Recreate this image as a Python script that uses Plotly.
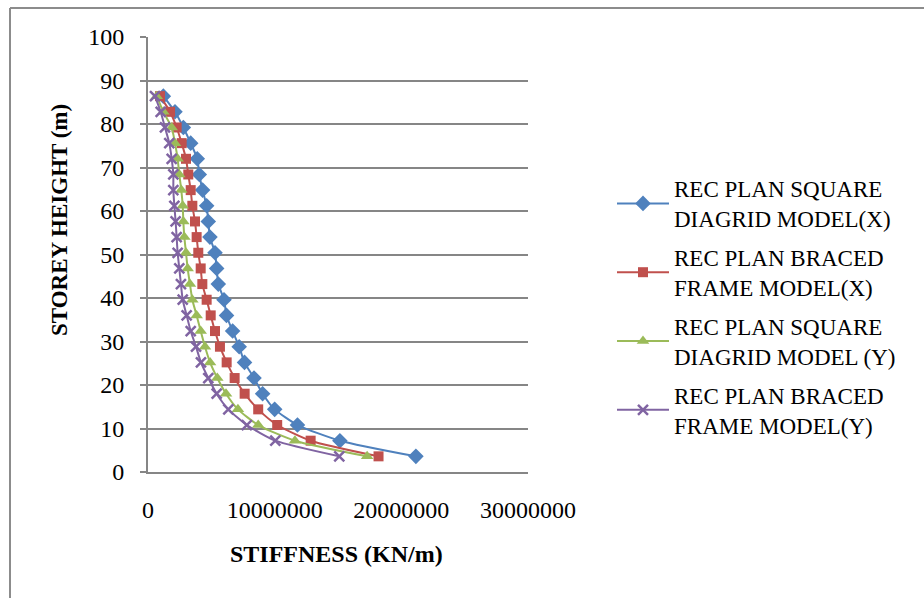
import plotly.graph_objects as go

heights = [3.6, 7.2, 10.8, 14.4, 18.0, 21.6, 25.2, 28.8, 32.4, 36.0, 39.6, 43.2,
           46.8, 50.4, 54.0, 57.6, 61.2, 64.8, 68.4, 72.0, 75.6, 79.2, 82.8, 86.4]

sq_diagrid_x = [21150000, 15150000, 11800000, 10000000, 9050000, 8370000, 7620000, 7200000,
                6680000, 6200000, 6000000, 5550000, 5420000, 5290000, 4890000, 4760000,
                4630000, 4310000, 4050000, 3890000, 3370000, 2790000, 2130000, 1210000]
braced_x = [18200000, 12840000, 10200000, 8700000, 7630000, 6840000, 6210000, 5680000,
            5290000, 4950000, 4630000, 4290000, 4160000, 3970000, 3840000, 3710000,
            3500000, 3370000, 3180000, 3000000, 2660000, 2260000, 1740000, 950000]
sq_diagrid_y = [17300000, 11600000, 8700000, 7100000, 6160000, 5470000, 4900000, 4500000,
                4160000, 3840000, 3500000, 3310000, 3130000, 3000000, 2870000, 2790000,
                2740000, 2630000, 2470000, 2340000, 2130000, 1870000, 1210000, 690000]
braced_y = [15100000, 10050000, 7800000, 6340000, 5420000, 4760000, 4180000, 3790000,
            3370000, 3050000, 2740000, 2600000, 2470000, 2340000, 2260000, 2180000,
            2080000, 2000000, 2000000, 1870000, 1680000, 1340000, 1000000, 550000]

names = ["REC PLAN SQUARE<br>DIAGRID MODEL(X)",
         "REC PLAN BRACED<br>FRAME MODEL(X)",
         "REC PLAN SQUARE<br>DIAGRID MODEL (Y)",
         "REC PLAN BRACED<br>FRAME MODEL(Y)"]
x_ticks = [0, 10000000, 20000000, 30000000]
x_tick_text = ["0", "10000000", "20000000", "30000000"]
y_ticks = [0, 10, 20, 30, 40, 50, 60, 70, 80, 90, 100]

colors = ["#4F81BD", "#C0504D", "#9BBB59", "#8064A2"]
symbols = ["diamond", "square", "triangle-up", "x-thin"]
sizes = [12, 10, 11, 10]
series = [sq_diagrid_x, braced_x, sq_diagrid_y, braced_y]

FONT = "Liberation Serif, Times New Roman, serif"

fig = go.Figure()
for i, (vals, name) in enumerate(zip(series, names)):
    marker = dict(symbol=symbols[i], size=sizes[i], color=colors[i])
    if symbols[i] == "x-thin":
        marker["line"] = dict(color=colors[i], width=2.5)
    fig.add_trace(go.Scatter(
        x=vals, y=heights, mode="lines+markers", name=name,
        line=dict(color=colors[i], width=2, shape="spline", smoothing=0.6),
        marker=marker, legendgroup="g%d" % i,
    ))

W, H = 924, 598
L, R, T, B = 148, 528, 37, 472

def px_x(p):
    return (p - L) / (R - L)

def px_y(p):
    return (B - p) / (B - T)

fig.update_layout(
    width=W, height=H,
    margin=dict(l=L, r=W - R, t=T, b=H - B, pad=0),
    paper_bgcolor="white", plot_bgcolor="white",
    font=dict(family=FONT, size=23, color="black"),
    showlegend=True,
    legend=dict(x=px_x(612), y=px_y(167), xanchor="left", yanchor="top",
                font=dict(family=FONT, size=23, color="black"),
                itemwidth=52, tracegroupgap=6, bgcolor="rgba(0,0,0,0)"),
    xaxis=dict(range=[0, 30000000], tickvals=x_ticks, ticktext=x_tick_text,
               showgrid=False, showline=True, linecolor="#868686", linewidth=2,
               ticks="", zeroline=False, ticklabelstandoff=15,
               tickfont=dict(family=FONT, size=24, color="black")),
    yaxis=dict(range=[0, 100], tickvals=y_ticks, showgrid=True, gridcolor="#868686",
               gridwidth=2, showline=True, linecolor="#868686", linewidth=2,
               ticks="outside", ticklen=6, tickcolor="#868686", tickwidth=2,
               zeroline=False, ticklabelstandoff=11,
               tickfont=dict(family=FONT, size=24, color="black")),
    annotations=[
        dict(text="<b>STIFFNESS (KN/m)</b>", x=px_x(336), y=px_y(554),
             xref="paper", yref="paper", showarrow=False,
             xanchor="center", yanchor="middle",
             font=dict(family=FONT, size=24, color="black")),
        dict(text="<b>STOREY HEIGHT (m)</b>", x=px_x(60), y=px_y(220),
             xref="paper", yref="paper", showarrow=False, textangle=-90,
             xanchor="center", yanchor="middle",
             font=dict(family=FONT, size=23, color="black")),
    ],
    shapes=[
        dict(type="line", xref="paper", yref="paper", x0=px_x(10), x1=px_x(930),
             y0=px_y(8), y1=px_y(8), line=dict(color="#8c8c8c", width=2)),
        dict(type="line", xref="paper", yref="paper", x0=px_x(10), x1=px_x(10),
             y0=px_y(8), y1=px_y(605), line=dict(color="#8c8c8c", width=2)),
    ],
)

fig.write_html("out.html")
